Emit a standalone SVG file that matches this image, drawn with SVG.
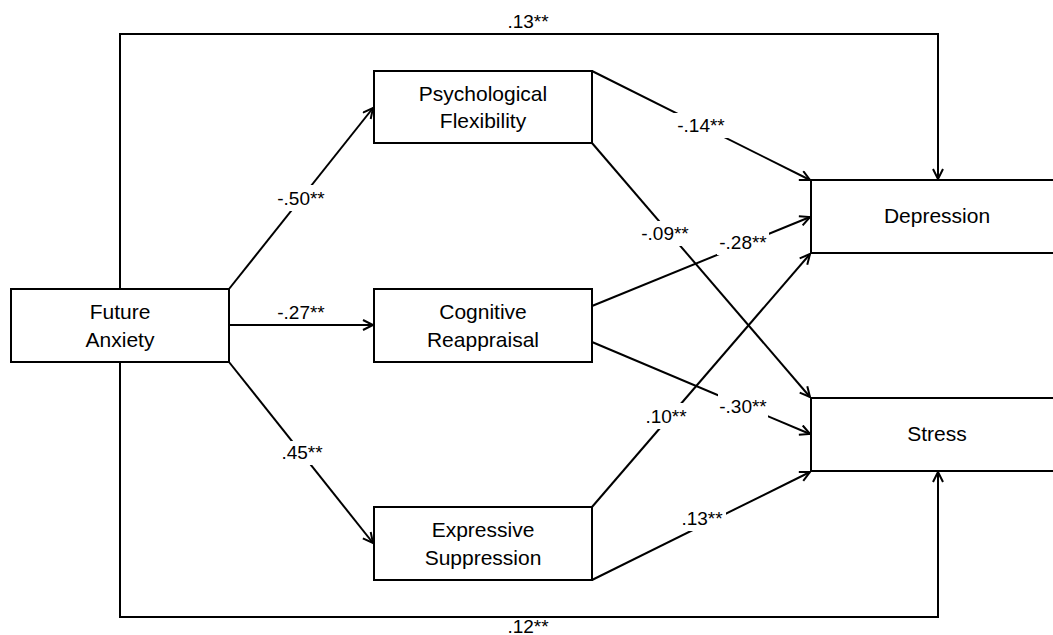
<svg xmlns="http://www.w3.org/2000/svg" width="1053" height="635" viewBox="0 0 1053 635">
<style>
.box{fill:#fff;stroke:#000;stroke-width:2}
.lbl{font-family:"Liberation Sans",Arial,sans-serif;font-size:21px;fill:#000;text-anchor:middle}
.coef{font-family:"Liberation Sans",Arial,sans-serif;font-size:19px;fill:#000;text-anchor:middle}
.edge{fill:none;stroke:#000;stroke-width:2}
.bg{fill:#fff;stroke:none}
</style>
<defs>
<marker id="arr" markerUnits="userSpaceOnUse" markerWidth="14" markerHeight="14" refX="11" refY="6" orient="auto">
<path d="M1,1 L11,6 L1,11" fill="none" stroke="#000" stroke-width="2"/>
</marker>
</defs>
<rect width="1053" height="635" fill="#fff"/>
<g id="connectors">
<path class="edge" d="M120,289 V34 H938 V179" marker-end="url(#arr)"/>
<path class="edge" d="M120,362 V617 H938 V472" marker-end="url(#arr)"/>
<path class="edge" d="M229,289 L373,108" marker-end="url(#arr)"/>
<path class="edge" d="M229,325 L373,325" marker-end="url(#arr)"/>
<path class="edge" d="M229,362 L373,543" marker-end="url(#arr)"/>
<path class="edge" d="M592,71 L810,180" marker-end="url(#arr)"/>
<path class="edge" d="M592,143 L810,397" marker-end="url(#arr)"/>
<path class="edge" d="M592,306 L810,217" marker-end="url(#arr)"/>
<path class="edge" d="M592,342 L810,434" marker-end="url(#arr)"/>
<path class="edge" d="M592,507 L810,254" marker-end="url(#arr)"/>
<path class="edge" d="M592,580 L810,472" marker-end="url(#arr)"/>
<g id="labels">
<text class="coef" x="528" y="28">.13**</text>
<text class="coef" x="528" y="633">.12**</text>
<rect class="bg" x="274" y="185" width="54" height="26"/>
<text class="coef" x="301" y="205">-.50**</text>
<text class="coef" x="301" y="319">-.27**</text>
<rect class="bg" x="278" y="441" width="48" height="24"/>
<text class="coef" x="302" y="459">.45**</text>
<rect class="bg" x="673" y="113" width="56" height="25"/>
<text class="coef" x="701" y="132">-.14**</text>
<rect class="bg" x="637" y="221" width="56" height="25"/>
<text class="coef" x="665" y="240">-.09**</text>
<rect class="bg" x="717" y="230" width="52" height="25"/>
<text class="coef" x="743" y="249">-.28**</text>
<rect class="bg" x="718" y="394" width="50" height="25"/>
<text class="coef" x="743" y="413">-.30**</text>
<rect class="bg" x="642" y="403" width="48" height="26"/>
<text class="coef" x="666" y="423">.10**</text>
<rect class="bg" x="679" y="506" width="47" height="25"/>
<text class="coef" x="702" y="525">.13**</text>
</g>
</g>
<g id="future-anxiety">
<rect class="box" x="11" y="289" width="218" height="73"/>
<text class="lbl" x="120" y="319">Future</text>
<text class="lbl" x="120" y="347">Anxiety</text>
</g>
<g id="psychological-flexibility">
<rect class="box" x="374" y="71" width="218" height="72"/>
<text class="lbl" x="483" y="101">Psychological</text>
<text class="lbl" x="483" y="128">Flexibility</text>
</g>
<g id="cognitive-reappraisal">
<rect class="box" x="374" y="289" width="218" height="73"/>
<text class="lbl" x="483" y="319">Cognitive</text>
<text class="lbl" x="483" y="347">Reappraisal</text>
</g>
<g id="expressive-suppression">
<rect class="box" x="374" y="507" width="218" height="73"/>
<text class="lbl" x="483" y="537">Expressive</text>
<text class="lbl" x="483" y="565">Suppression</text>
</g>
<g id="depression">
<rect class="box" x="811" y="180" width="260" height="73"/>
<text class="lbl" x="937" y="223">Depression</text>
</g>
<g id="stress">
<rect class="box" x="811" y="398" width="260" height="73"/>
<text class="lbl" x="937" y="441">Stress</text>
</g>
</svg>
